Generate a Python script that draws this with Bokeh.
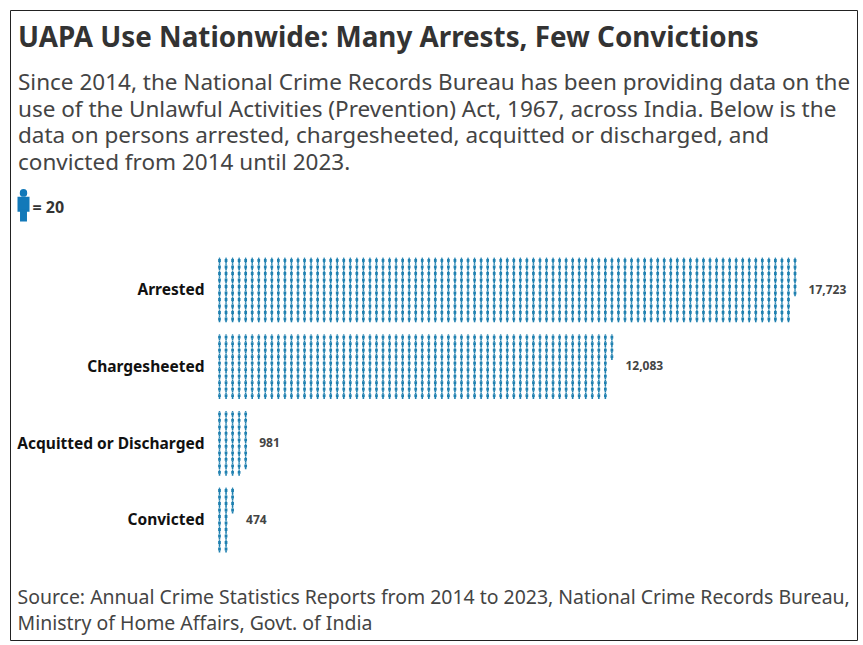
from bokeh.plotting import figure
from bokeh.models import Range1d, Label, FixedTicker, ColumnDataSource
from bokeh.core.properties import value
from bokeh.embed import file_html
from bokeh.resources import INLINE

categories = ["Arrested", "Chargesheeted", "Acquitted or Discharged", "Convicted"]
persons = [17723, 12083, 981, 474]
value_labels = ["17,723", "12,083", "981", "474"]
per_icon = 20
rows_per_column = 10

title = "UAPA Use Nationwide: Many Arrests, Few Convictions"
intro = [
    "Since 2014, the National Crime Records Bureau has been providing data on the",
    "use of the Unlawful Activities (Prevention) Act, 1967, across India. Below is the",
    "data on persons arrested, chargesheeted, acquitted or discharged, and",
    "convicted from 2014 until 2023.",
]
source = [
    "Source: Annual Crime Statistics Reports from 2014 to 2023, National Crime Records Bureau,",
    "Ministry of Home Affairs, Govt. of India",
]

BLUE = "#1f80b0"
LEGEND_BLUE = "#1279b9"
COL_PX, ROW_PX = 6.54, 6.5
X0, Y0 = 219.0, 257.0      # page position of data origin
GROUP_STEP = 11.8          # rows between groups
L, R, T, B = 10, 857, 10, 640

def dx(px):
    return (px - X0) / COL_PX

def dy(py):
    return (py - Y0) / ROW_PX

p = figure(width=859, height=642, output_backend="svg", toolbar_location=None,
           x_range=Range1d(dx(L), dx(R)), y_range=Range1d(dy(B), dy(T)),
           min_border_left=10, min_border_top=10, min_border_right=2, min_border_bottom=2)
p.xaxis.visible = False
p.grid.visible = False
p.outline_line_color = "#222222"
p.outline_line_width = 1
p.background_fill_color = "white"


def icon_parts(cx, top, w, h):
    """One person: head, torso, legs, w/h in data units."""
    return dict(
        head=(cx, top + h * 0.12, w * 0.62, h * 0.24),
        torso=(cx, top + h * 0.47, w, h * 0.46),
        legs=(cx, top + h * 0.82, w * 0.58, h * 0.36),
    )


parts = {"head": ([], [], [], [], []), "torso": ([], [], [], [], []), "legs": ([], [], [], [], [])}


def add_icon(cx, top, w, h, color):
    for k, t in icon_parts(cx, top, w, h).items():
        for a, v in zip(parts[k], t + (color,)):
            a.append(v)


last_cols, centers = [], []
for i, n in enumerate(persons):
    count = round(n / per_icon)
    group_top = i * GROUP_STEP
    for k in range(count):
        col, row = divmod(k, rows_per_column)
        add_icon(col + 0.0, group_top + row, 0.42, 0.97, BLUE)
    last_cols.append((count - 1) // rows_per_column)
    centers.append(group_top + rows_per_column / 2 - 0.12)

# legend person
add_icon(dx(23), dy(188.5), 12 / COL_PX, 32.5 / ROW_PX, LEGEND_BLUE)

for k in ("torso", "legs"):
    x, y, w, h, c = parts[k]
    p.rect(x=x, y=y, width=w, height=h, fill_color=c, line_color=None)
x, y, w, h, c = parts["head"]
p.ellipse(x=x, y=y, width=w, height=h, fill_color=c, line_color=None)

# category axis
ax = p.yaxis[0]
ax.fixed_location = dx(204)
ax.ticker = FixedTicker(ticks=centers)
ax.major_label_overrides = dict(zip(centers, categories))
ax.axis_line_color = None
ax.major_tick_line_color = None
ax.minor_tick_line_color = None
ax.major_tick_out = 0
ax.major_label_standoff = 0
ax.major_label_text_font = "Noto Sans"
ax.major_label_text_font_style = "bold"
ax.major_label_text_font_size = "15.5px"
ax.major_label_text_color = "#111111"

# value labels
src = ColumnDataSource(dict(x=last_cols, y=centers, t=value_labels))
p.text(x="x", y="y", text="t", source=src, x_offset=13.5, text_align="left", text_baseline="middle",
       text_font=value("Noto Sans"), text_font_style="bold", text_font_size="12px", text_color="#444444")


def add_text(t, px, py, size, color, style="normal"):
    p.add_layout(Label(x=dx(px), y=dy(py), text=t, text_font="Noto Sans", text_font_size=size,
                       text_font_style=style, text_color=color, text_align="left",
                       text_baseline="middle"))


add_text(title, 17.5, 35, "27.8px", "#333333", "bold")
for t, py in zip(intro, (81, 107.5, 134, 161)):
    add_text(t, 17.5, py, "22.5px", "#444444")
add_text("= 20", 32, 206.5, "16px", "#333333", "bold")
for t, py in zip(source, (596, 622)):
    add_text(t, 17, py, "19.45px", "#444444")

open("out.html", "w").write(file_html(p, INLINE))
